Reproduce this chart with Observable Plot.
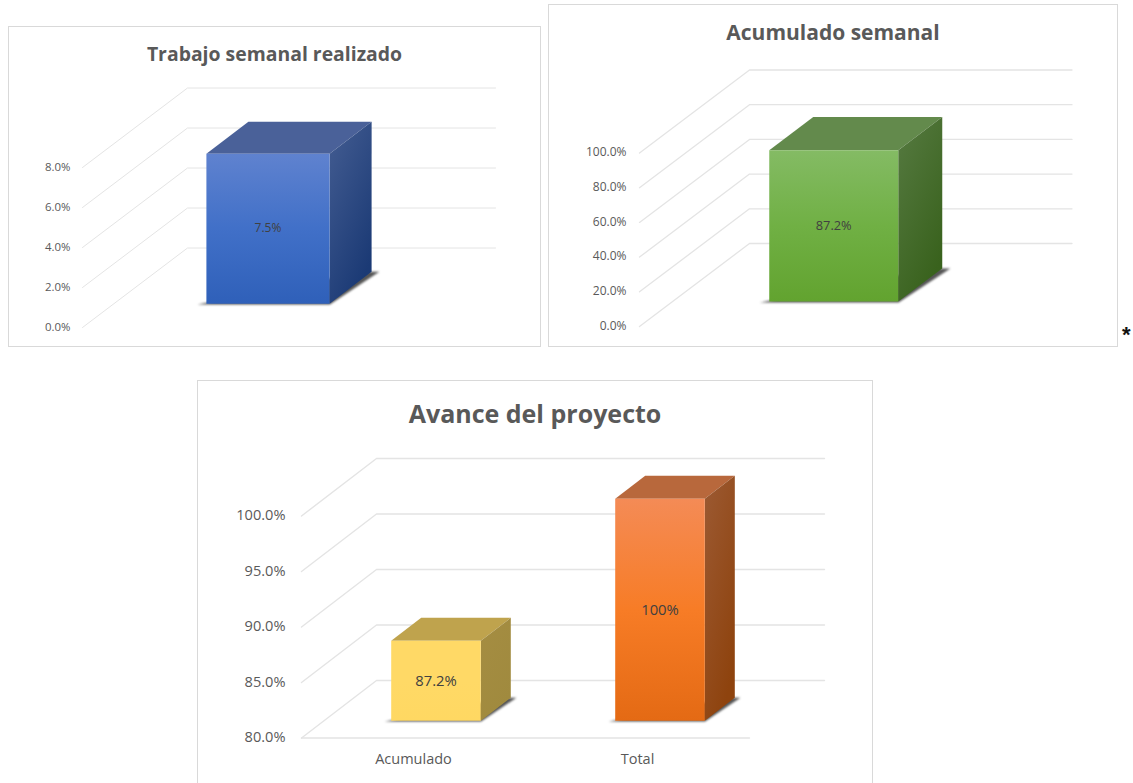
<!DOCTYPE html>
<html>
<head>
<meta charset="utf-8">
<title>Avance del proyecto</title>
<script src="https://cdn.jsdelivr.net/npm/d3@7"></script>
<script src="https://cdn.jsdelivr.net/npm/@observablehq/plot@0.6"></script>
<style>
  html, body { margin: 0; padding: 0; background: #fff; overflow: hidden; }
  #page { position: relative; width: 1133px; height: 783px; overflow: hidden; font-family: "Open Sans", sans-serif; }
  .card { position: absolute; box-sizing: border-box; border: 1px solid #d9d9d9; background: #fff; }
  .card svg { position: absolute; left: 0; top: 0; background: transparent; }
  .card h2 { position: absolute; left: 0; right: 0; margin: 0; text-align: center; color: #595959; font-weight: 700; line-height: 1; white-space: nowrap; }
  #mark { position: absolute; left: 1122px; top: 322px; font: 700 22px "Liberation Sans", sans-serif; color: #111; }
</style>
</head>
<body>
<div id="page"><div id="mark">*</div></div>
<script>
// Weekly work
const weeklyCategories = [""];
const weeklyValues = [7.5];
const weeklyTicks = [0, 2, 4, 6, 8];

// Running total for the week
const cumulativeCategories = [""];
const cumulativeValues = [87.2];
const cumulativeTicks = [0, 20, 40, 60, 80, 100];

// Project progress
const progressCategories = ["Acumulado", "Total"];
const progressValues = [87.2, 100];
const progressTicks = [80, 85, 90, 95, 100];

const palette = {
  blue:   {front: ["#5f82cf", "#4170c8", "#2f60b9"], top: "#4a6199", side: ["#445d92", "#1b3a75"]},
  green:  {front: ["#84bb64", "#70b044", "#62a32f"], top: "#638a4c", side: ["#567a41", "#39621d"]},
  yellow: {front: ["#ffd966", "#ffd966", "#ffd862"], top: "#bfa34d", side: ["#a58d42", "#a08a3e"]},
  orange: {front: ["#f48b56", "#f77c26", "#e46a14"], top: "#b8683c", side: ["#9c5a33", "#8e430e"]}
};

const pct = (v) => `${+v.toFixed(1)}%`;
const tickPct = (v) => `${v.toFixed(1)}%`;
let gradientCount = 0;

// Vertical or diagonal gradients for the box faces, kept inside each svg
function gradientDefs(specs) {
  return () => {
    const ns = "http://www.w3.org/2000/svg";
    const defs = document.createElementNS(ns, "defs");
    for (const {id, stops, diagonal} of specs) {
      const g = document.createElementNS(ns, "linearGradient");
      g.setAttribute("id", id);
      g.setAttribute("x1", 0); g.setAttribute("y1", 0);
      g.setAttribute("x2", diagonal ? 0.55 : 0); g.setAttribute("y2", 1);
      stops.forEach((c, i) => {
        const s = document.createElementNS(ns, "stop");
        s.setAttribute("offset", i / (stops.length - 1));
        s.setAttribute("stop-color", c);
        g.appendChild(s);
      });
      defs.appendChild(g);
    }
    return defs;
  };
}

// Oblique bar chart: u runs along the categories, d runs into the page from 0 to 1.
function chart3d(opts) {
  const {box, title, titleSize, titleTop, categories, values, ticks, colors,
         front, band, depthX, depthY, unit, tickSize, tickPadding, valueSize, categorySize, floorFront} = opts;
  const n = categories.length;
  const yMin = ticks[0];
  const yMax = ticks[ticks.length - 1];
  const depthV = depthY / unit;
  const X = (u, d) => u * band + d * depthX;
  const Y = (v, d) => v + d * depthV;
  const P = (u, v, d) => ({x: X(u, d), y: Y(v, d)});

  const card = document.createElement("div");
  card.className = "card";
  Object.assign(card.style, {left: box.x + "px", top: box.y + "px", width: box.w + "px", height: box.h + "px"});

  const gridDiagonals = ticks.map((t) => [P(0, t, 0), P(0, t, 1), P(n, t, 1)]);
  if (floorFront) gridDiagonals.push([P(0, yMin, 0), P(n, yMin, 0)]);

  const defs = [];
  const marks = [];
  gridDiagonals.forEach((pts) => marks.push(Plot.line(pts, {x: "x", y: "y", stroke: "#e4e4e4", strokeWidth: opts.gridWidth})));

  values.forEach((v, i) => {
    const c = colors[i];
    const uid = `face${gradientCount++}`;
    defs.push({id: uid + "f", stops: c.front}, {id: uid + "s", stops: c.side, diagonal: true});
    const u0 = i + 0.3, u1 = i + 0.7, d0 = 0.3, d1 = 0.7;
    // Contact shadow lying on the floor under the box
    const s = 0.025;
    marks.push(Plot.line([P(u0 - s, yMin, d0 - 0.012), P(u1 + 0.005, yMin, d0 - 0.012), P(u1 + s, yMin, d1), P(u1 - s, yMin, d1)], {
      x: "x", y: "y", fill: "#2b2b2b", stroke: "none", imageFilter: "blur(0.9px)", fillOpacity: 0.8
    }));
    marks.push(Plot.line([P(u0, v, d0), P(u1, v, d0), P(u1, v, d1), P(u0, v, d1)], {x: "x", y: "y", fill: c.top, stroke: "none"}));
    marks.push(Plot.line([P(u1, yMin, d0), P(u1, v, d0), P(u1, v, d1), P(u1, yMin, d1)], {x: "x", y: "y", fill: `url(#${uid}s)`, stroke: "none"}));
    marks.push(Plot.line([P(u0, yMin, d0), P(u1, yMin, d0), P(u1, v, d0), P(u0, v, d0)], {x: "x", y: "y", fill: `url(#${uid}f)`, stroke: "none"}));
    marks.push(Plot.text([P(i + 0.5, (yMin + v) / 2, d0)], {x: "x", y: "y", text: () => pct(v), fill: "#404040", fontSize: valueSize, fontFamily: "Open Sans"}));
  });

  categories.forEach((name, i) => {
    if (name) marks.push(Plot.text([P(i + 0.5, yMin, 0)], {x: "x", y: "y", text: () => name, dy: 21, fill: "#595959", fontSize: categorySize, fontFamily: "Open Sans"}));
  });

  const plot = Plot.plot({
    width: box.w - 2,
    height: box.h - 2,
    marginLeft: front.x - box.x - 1,
    marginRight: 0,
    marginTop: 0,
    marginBottom: 0,
    style: {background: "transparent", overflow: "visible"},
    x: {domain: [0, X(n, 1)], range: [front.x - box.x - 1, front.x - box.x - 1 + n * band + depthX], axis: null},
    y: {
      domain: [yMin, yMax + depthV],
      range: [front.y - box.y - 1, front.y - box.y - 1 - (yMax - yMin) * unit - depthY],
      axis: null
    },
    marks: [
      gradientDefs(defs),
      Plot.axisY({
        anchor: "left", ticks, tickSize: 0, tickPadding, tickFormat: tickPct, label: null,
        fontSize: tickSize, fontFamily: "Open Sans", color: "#595959", dy: -0.5
      }),
      ...marks
    ]
  });
  card.appendChild(plot);

  const h = document.createElement("h2");
  h.textContent = title;
  h.style.fontSize = titleSize + "px";
  h.style.top = titleTop + "px";
  card.appendChild(h);

  document.getElementById("page").appendChild(card);
}

chart3d({
  box: {x: 8, y: 26, w: 533, h: 321},
  title: "Trabajo semanal realizado", titleSize: 19.4, titleTop: 17,
  categories: weeklyCategories, values: weeklyValues, ticks: weeklyTicks,
  colors: [palette.blue],
  front: {x: 82, y: 327}, band: 308, depthX: 105, depthY: 79.5, unit: 20,
  tickSize: 11.4, tickPadding: 12, valueSize: 12, gridWidth: 1
});

chart3d({
  box: {x: 548, y: 4, w: 570, h: 343},
  title: "Acumulado semanal", titleSize: 21, titleTop: 17,
  categories: cumulativeCategories, values: cumulativeValues, ticks: cumulativeTicks,
  colors: [palette.green],
  front: {x: 639, y: 326}, band: 322.5, depthX: 110, depthY: 83, unit: 1.735,
  tickSize: 12, tickPadding: 13, valueSize: 12.8, gridWidth: 1.3
});

chart3d({
  box: {x: 197, y: 380, w: 676, h: 420},
  title: "Avance del proyecto", titleSize: 25, titleTop: 20,
  categories: progressCategories, values: progressValues, ticks: progressTicks,
  colors: [palette.yellow, palette.orange],
  front: {x: 301, y: 737.5}, band: 224, depthX: 75, depthY: 57.5, unit: 11.1,
  tickSize: 14.6, tickPadding: 16, valueSize: 14.8, categorySize: 14.5, gridWidth: 1.4, floorFront: true
});
</script>
</body>
</html>
